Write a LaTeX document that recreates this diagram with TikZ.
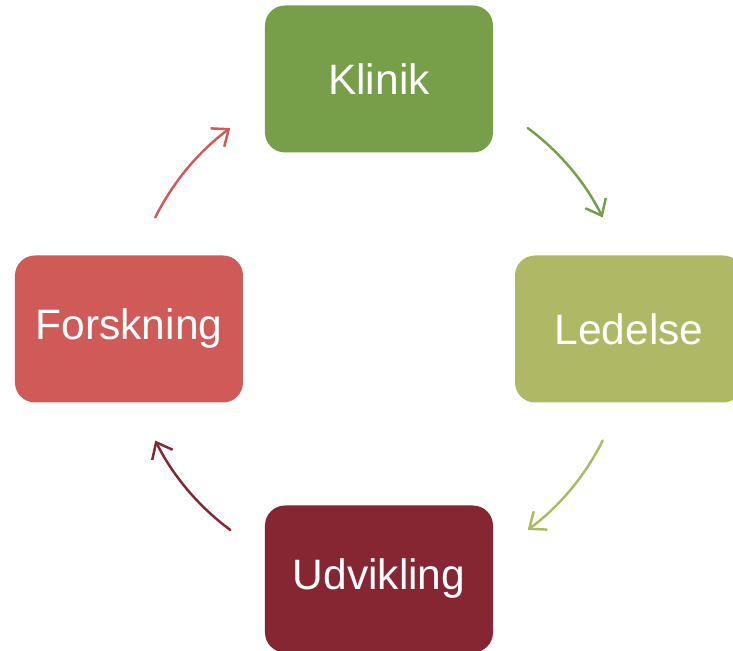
\documentclass[tikz,border=0pt]{standalone}
\usepackage{fontspec}
\setmainfont{Liberation Sans}
\usepackage{tikz}
\usetikzlibrary{arrows.meta}
\definecolor{klinikgreen}{RGB}{119,159,73}
\definecolor{ledelselime}{RGB}{175,185,101}
\definecolor{udviklingred}{RGB}{134,38,51}
\definecolor{forskningred}{RGB}{207,90,88}

\begin{document}
\begin{tikzpicture}[
    box/.style={rounded corners=0.4cm, minimum width=4.56cm, minimum height=2.94cm,
      inner sep=0pt, text=white, font=\fontsize{24.2}{29}\selectfont},
    cyc/.style={line width=1.4pt, line cap=round,
      -{Straight Barb[length=8pt,width=13pt,line width=1.4pt]}}]
      \useasboundingbox (-7.58,-6.44) rectangle (7.08,6.58);
      \coordinate (c) at (0,0);
      \node[name=klinik, box, fill=klinikgreen] at (0,5){Klinik};
      \node[name=ledelse, box, fill=ledelselime] at (5,0){Ledelse};
      \node[name=udvikling, box, fill=udviklingred] at (0,-5){Udvikling};
      \node[name=forskning, box, fill=forskningred] at (-5,0){Forskning};
      \draw[cyc, draw=klinikgreen] (c) ++(53.5:5) arc (53.5:26.5:5);
      \draw[cyc, draw=ledelselime] (c) ++(-26.5:5) arc (-26.5:-53.5:5);
      \draw[cyc, draw=udviklingred] (c) ++(-126.5:5) arc (-126.5:-153.5:5);
      \draw[cyc, draw=forskningred] (c) ++(153.5:5) arc (153.5:126.5:5);
    \end{tikzpicture}
\end{document}
